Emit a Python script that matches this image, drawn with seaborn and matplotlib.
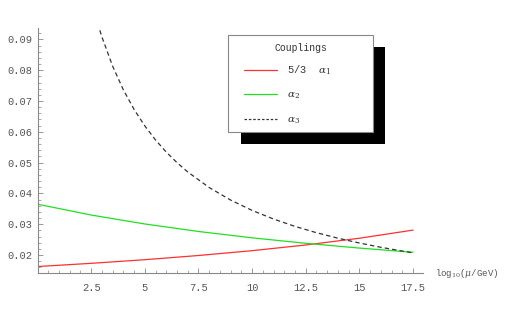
import numpy as np
import pandas as pd
import matplotlib
matplotlib.use('Agg')
import matplotlib.pyplot as plt
import seaborn as sns
from matplotlib.lines import Line2D
from matplotlib.patches import Rectangle
from matplotlib.ticker import MultipleLocator

# values
x_12 = [0, 2.5, 5, 7.5, 10, 12.5, 15, 17.5]
alpha1 = [0.01626, 0.01730, 0.01848, 0.01984, 0.02141, 0.02326, 0.02545, 0.02809]
alpha2 = [0.03650, 0.03298, 0.03008, 0.02764, 0.02558, 0.02380, 0.02225, 0.02089]

x_3 = [2.8, 3.0, 3.5, 4.0, 4.5, 5.0, 5.5, 6.0, 6.5, 7.0, 8, 9, 10, 11, 12, 13, 14, 15, 16, 17, 17.5]
alpha3 = [0.09527, 0.09083, 0.08133, 0.07364, 0.06727, 0.06192, 0.05736, 0.05342,
          0.04999, 0.04697, 0.04191, 0.03784, 0.03448, 0.03168, 0.02929, 0.02724,
          0.02546, 0.02389, 0.02251, 0.02128, 0.02071]

labels = ['5/3  $\\alpha_1$', '$\\alpha_2$', '$\\alpha_3$']
title = 'Couplings'
xlabel = 'log$_{10}$($\\mu$/GeV)'

sns.set_style('white')
plt.rcParams['font.family'] = ['Liberation Mono', 'DejaVu Sans Mono']
plt.rcParams['mathtext.fontset'] = 'dejavuserif'

W, H = 506, 314
fig = plt.figure(figsize=(W / 100, H / 100), dpi=100)
ax = fig.add_axes([37.5 / W, (H - 273) / H, (422.7 - 37.5) / W, (273 - 28) / H])

df12 = pd.DataFrame({'x': x_12, 'a1': alpha1, 'a2': alpha2})
df3 = pd.DataFrame({'x': x_3, 'a3': alpha3})

sns.lineplot(data=df12, x='x', y='a1', color='#ff3030', lw=0.9, ax=ax)
sns.lineplot(data=df12, x='x', y='a2', color='#20e020', lw=0.9, ax=ax)
sns.lineplot(data=df3, x='x', y='a3', color='#333333', lw=0.9, ax=ax, dashes=False)
ax.lines[-1].set_dashes([3.5, 2.5])

ax.set_xlim(0, 17.95)
ax.set_ylim(0.01416, 0.0937)
ax.set_xlabel('')
ax.set_ylabel('')

for s in ['top', 'right']:
    ax.spines[s].set_visible(False)
for s in ['left', 'bottom']:
    ax.spines[s].set_color('#888888')
    ax.spines[s].set_linewidth(0.8)

ax.set_xticks([2.5, 5, 7.5, 10, 12.5, 15, 17.5])
ax.set_xticklabels(['2.5', '5', '7.5', '10', '12.5', '15', '17.5'])
ax.set_yticks([0.02, 0.03, 0.04, 0.05, 0.06, 0.07, 0.08, 0.09])
ax.set_yticklabels(['0.02', '0.03', '0.04', '0.05', '0.06', '0.07', '0.08', '0.09'])
ax.xaxis.set_minor_locator(MultipleLocator(0.5))
ax.yaxis.set_minor_locator(MultipleLocator(0.002))
ax.tick_params(which='both', bottom=True, left=True)
ax.tick_params(which='major', direction='in', length=3.5, width=0.6, color='#888888',
               labelsize=7.5, labelcolor='#555555')
ax.tick_params(which='minor', direction='in', length=2, width=0.5, color='#888888')
ax.tick_params(axis='x', which='major', pad=7)
ax.tick_params(axis='y', which='major', pad=4)

fig.text(435 / W, (H - 273) / H, xlabel, fontsize=6.5, color='#555555', va='center', ha='left')

# legend box with a solid black shadow
fig.patches.append(Rectangle((241 / W, (H - 144) / H), (385 - 241) / W, (144 - 47) / H,
                             transform=fig.transFigure, facecolor='black', edgecolor='none', zorder=2))
fig.patches.append(Rectangle((228 / W, (H - 132) / H), (373 - 228) / W, (132 - 35) / H,
                             transform=fig.transFigure, facecolor='white', edgecolor='#888888',
                             lw=0.8, zorder=3))
fig.text(301 / W, (H - 48) / H, title, fontsize=7, color='#333333', ha='center', va='center',
         zorder=6)

handles = [Line2D([], [], color='#ff3030', lw=0.9),
           Line2D([], [], color='#20e020', lw=0.9),
           Line2D([], [], color='#333333', lw=0.9, dashes=[2, 1.5])]
leg = fig.legend(handles, labels, loc='upper left',
                 bbox_to_anchor=(236 / W, (H - 55) / H), frameon=False,
                 fontsize=7.5, handlelength=3.1, handletextpad=1.0,
                 labelspacing=1.25, borderpad=0.3)
leg.set_zorder(5)
for t in leg.get_texts():
    t.set_color('#333333')

fig.savefig('out.png', dpi=100)
